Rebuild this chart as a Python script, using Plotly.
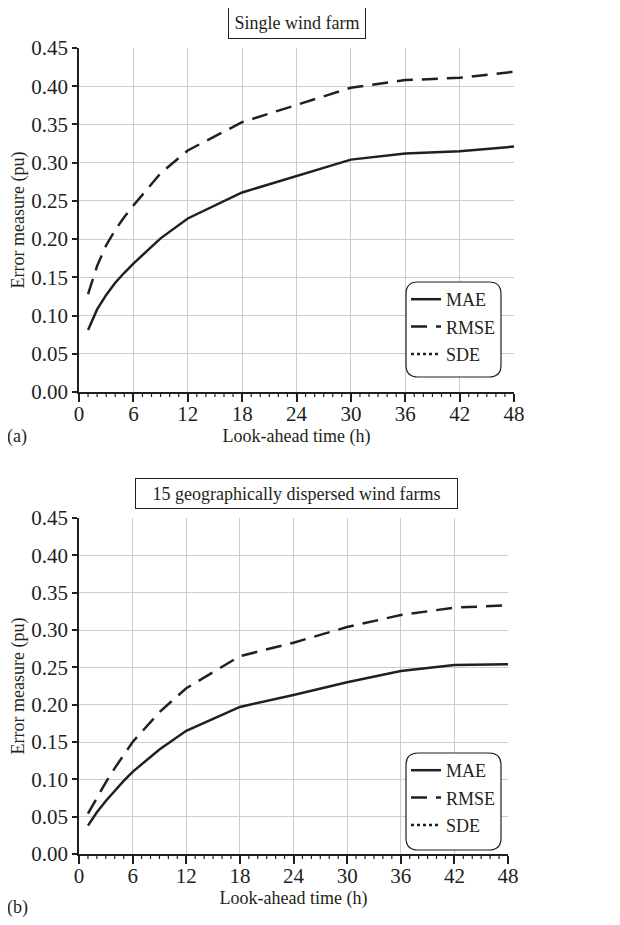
import plotly.graph_objects as go

W, H = 620, 925
OFF = 8  # page body margin in the browser

hours = [1, 2, 3, 4, 5, 6, 9, 12, 18, 24, 30, 36, 42, 48]

mae_single = [0.081, 0.108, 0.127, 0.143, 0.156, 0.168, 0.201, 0.227, 0.261, 0.282, 0.304, 0.312, 0.315, 0.321]
rmse_single = [0.128, 0.165, 0.192, 0.212, 0.229, 0.244, 0.286, 0.316, 0.353, 0.375, 0.398, 0.408, 0.411, 0.419]
sde_single = [None] * len(hours)   # hidden beneath RMSE in the source

mae_multi = [0.038, 0.056, 0.071, 0.085, 0.098, 0.110, 0.140, 0.165, 0.197, 0.213, 0.230, 0.245, 0.253, 0.254]
rmse_multi = [0.054, 0.076, 0.096, 0.115, 0.133, 0.150, 0.190, 0.222, 0.265, 0.283, 0.304, 0.320, 0.330, 0.333]
sde_multi = [None] * len(hours)

series_names = ["MAE", "RMSE", "SDE"]
panel_titles = ["Single wind farm", "15 geographically dispersed wind farms"]
panel_tags = ["(a)", "(b)"]
x_title = "Look-ahead time (h)"
y_title = "Error measure (pu)"
x_tick_step = 6
x_minor_ticks = list(range(0, 49))
y_tick_step = 0.05

FONT = "Liberation Serif, Times New Roman, serif"
TXT = "#231f20"

def px_x(p):
    return (p - OFF) / W

def px_y(p):
    return 1 - (p - OFF) / H

fig = go.Figure()

panels = [
    dict(mae=mae_single, rmse=rmse_single, sde=sde_single, xa="x", ya="y", leg="legend",
         xd=[79, 514], yd=[48, 392], title_box=(228, 7, 366, 39), tag_y=437, legbox=(406, 282, 501, 377)),
    dict(mae=mae_multi, rmse=rmse_multi, sde=sde_multi, xa="x2", ya="y2", leg="legend2",
         xd=[79, 508], yd=[518, 854], title_box=(135, 478, 458, 509), tag_y=907, legbox=(406, 753, 501, 850)),
]

shapes = []
annotations = []
for i, p in enumerate(panels):
    fig.add_trace(go.Scatter(x=hours, y=p["mae"], mode="lines", name=series_names[0],
                             line=dict(color="#231f20", width=2.5), xaxis=p["xa"], yaxis=p["ya"],
                             legend=p["leg"], legendgroup=f"g{i}a"))
    fig.add_trace(go.Scatter(x=hours, y=p["rmse"], mode="lines", name=series_names[1],
                             line=dict(color="#231f20", width=2.5, dash="16px,9px"),
                             xaxis=p["xa"], yaxis=p["ya"], legend=p["leg"], legendgroup=f"g{i}b"))
    fig.add_trace(go.Scatter(x=hours, y=p["sde"], mode="lines", name=series_names[2],
                             line=dict(color="#231f20", width=2.5, dash="3px,3px"),
                             xaxis=p["xa"], yaxis=p["ya"], legend=p["leg"], legendgroup=f"g{i}c"))

    axis_common = dict(showline=True, linecolor="#231f20", linewidth=1.5,
                       showgrid=True, gridcolor="#cccccc", gridwidth=1.2, zeroline=False,
                       ticks="outside", tickcolor="#231f20", automargin=False,
                       tickfont=dict(family=FONT, size=21, color=TXT))
    xkey = "xaxis" if i == 0 else "xaxis2"
    ykey = "yaxis" if i == 0 else "yaxis2"
    xdom = [px_x(p["xd"][0]), px_x(p["xd"][1])]
    fig.update_layout(**{
        xkey: dict(axis_common, domain=xdom, range=[0, 48],
                   anchor=p["ya"], tickmode="linear", tick0=0, dtick=x_tick_step,
                   ticklen=8, tickwidth=1.5, ticklabelstandoff=-6,
                   title=dict(text=x_title, font=dict(family=FONT, size=18, color=TXT), standoff=4)),
        ykey: dict(axis_common, domain=[px_y(p["yd"][1]), px_y(p["yd"][0])], range=[0, 0.45],
                   anchor=p["xa"], tickmode="linear", tick0=0, dtick=y_tick_step,
                   tickformat=".2f", ticklen=5, tickwidth=1.5,
                   title=dict(text=y_title, font=dict(family=FONT, size=18, color=TXT), standoff=9)),
        p["leg"]: dict(x=px_x(p["legbox"][0]), xanchor="left", y=px_y(p["legbox"][1] - 1), yanchor="top",
                       bgcolor="rgba(0,0,0,0)", borderwidth=0, tracegroupgap=1,
                       font=dict(family=FONT, size=18, color=TXT)),
    })

    # minor hour ticks below the x axis
    for h in x_minor_ticks:
        shapes.append(dict(type="line", xref=p["xa"], yref=f"{p['ya']} domain",
                           x0=h, x1=h, ysizemode="pixel", yanchor=0, y0=0, y1=-5,
                           line=dict(color="#231f20", width=1.2), layer="above"))

    bx0, by0, bx1, by1 = p["title_box"]
    annotations.append(dict(text=panel_titles[i], xref="paper", yref="paper",
                            x=px_x((bx0 + bx1) / 2), y=px_y((by0 + by1) / 2),
                            xanchor="center", yanchor="middle", showarrow=False,
                            width=bx1 - bx0 - 10, height=by1 - by0 - 10, align="center",
                            font=dict(family=FONT, size=18, color=TXT),
                            bordercolor="#231f20", borderwidth=1, borderpad=4, bgcolor="white"))
    annotations.append(dict(text=panel_tags[i], xref="paper", yref="paper",
                            x=px_x(5), y=px_y(p["tag_y"]), xanchor="left", yanchor="middle",
                            showarrow=False, font=dict(family=FONT, size=18, color=TXT)))

    x0, y0, x1, y1 = p["legbox"]
    r = 12
    pts = (f"M {px_x(x0 + r)},{px_y(y0)} L {px_x(x1 - r)},{px_y(y0)} "
           f"Q {px_x(x1)},{px_y(y0)} {px_x(x1)},{px_y(y0 + r)} "
           f"L {px_x(x1)},{px_y(y1 - r)} Q {px_x(x1)},{px_y(y1)} {px_x(x1 - r)},{px_y(y1)} "
           f"L {px_x(x0 + r)},{px_y(y1)} Q {px_x(x0)},{px_y(y1)} {px_x(x0)},{px_y(y1 - r)} "
           f"L {px_x(x0)},{px_y(y0 + r)} Q {px_x(x0)},{px_y(y0)} {px_x(x0 + r)},{px_y(y0)} Z")
    shapes.append(dict(type="path", path=pts, xref="paper", yref="paper",
                       line=dict(color="#231f20", width=1.2), fillcolor="white", layer="above"))

fig.update_layout(
    width=W, height=H,
    margin=dict(l=0, r=0, t=0, b=0),
    paper_bgcolor="white", plot_bgcolor="white",
    showlegend=True,
    shapes=shapes,
    annotations=annotations,
    font=dict(family=FONT, size=18, color=TXT),
)

fig.write_html("out.html")
